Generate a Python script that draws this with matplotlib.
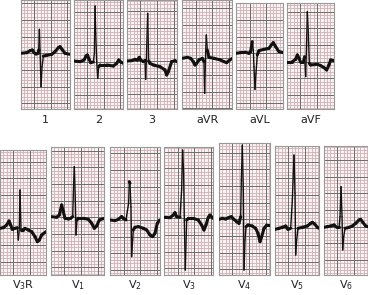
import numpy as np
import matplotlib
matplotlib.use("Agg")
import matplotlib.pyplot as plt
from matplotlib.collections import LineCollection

# lead labels (limb leads on top, chest leads below)
top_labels = ["1", "2", "3", "aVR", "aVL", "aVF"]
bottom_labels = [r"V$_3$R", r"V$_1$", r"V$_2$", r"V$_3$", r"V$_4$", r"V$_5$", r"V$_6$"]

# traces: time in mm (small boxes) from strip start, amplitude in mm above baseline
lead_1_t = [0, 1.8, 2.8, 3.5, 4.0, 4.6, 5.2, 5.4, 5.6, 5.8, 6.1, 6.4, 6.8, 7.8, 9.3, 10.3, 11.3, 11.8, 12.4, 13.3, 14.8]
lead_1_v = [0, 0.2, 0.8, 1.0, 0.2, -0.2, 0, 1, 7.2, 1, -10, -4, -0.8, -0.6, -0.3, 0.5, 1.7, 2.0, 1.2, 0, -0.3]

lead_2_t = [0, 1.9, 3.1, 3.7, 4.1, 4.5, 5.1, 5.9, 6.2, 6.4, 6.6, 6.9, 7.2, 7.5, 7.9, 9.9, 11.9, 12.9, 13.5, 14.1, 14.9]
lead_2_v = [0.2, 0, 0.5, 1.7, 2.0, 1.0, -0.3, -0.1, 2.5, 16.7, 8.5, 0, -5.0, -1.5, -1.0, -1.0, -1.3, -0.5, 0.5, -0.1, -0.5]

lead_3_t = [0, 1.4, 2.4, 3.1, 3.7, 4.1, 4.9, 5.4, 5.6, 5.8, 6.2, 6.5, 6.9, 7.9, 9.9, 11.4, 11.9, 12.4, 13.4, 14.4, 14.9]
lead_3_v = [0, 0.1, 0.5, 0.3, 1.1, 0.3, -0.2, 0.2, -5.5, 0, 14.3, 0, -0.7, -1.2, -1.7, -2.7, -4.2, -3.2, -0.2, 0.1, -0.2]

lead_avr_t = [0, 1.5, 2.5, 3.3, 3.8, 4.3, 5.0, 6.0, 6.5, 6.7, 7.0, 7.2, 7.5, 8.0, 9.5, 11.5, 12.5, 13.3, 14.0, 15.0]
lead_avr_v = [0, 0.3, 0, -1, -2, -1.5, -0.5, 0, -1, -10.5, 1.5, 7, 2.5, 0.3, 0, -0.5, -1, -1.3, -0.7, 0]

lead_avl_t = [0, 1.3, 2.8, 3.8, 4.3, 4.8, 5.1, 5.3, 5.6, 5.9, 6.3, 6.8, 8.3, 9.8, 10.5, 11.1, 11.8, 12.8, 14.0]
lead_avl_v = [0, 0.2, 0.3, 0, 0.5, 3.5, 1.0, -4, -10.8, -6, -0.5, 0.8, 1.2, 1.5, 2.5, 3.2, 2.0, 0.5, 0.2]

lead_avf_t = [0, 1.6, 2.6, 3.1, 3.6, 4.1, 4.9, 5.3, 5.6, 5.9, 6.1, 6.4, 6.7, 7.1, 9.1, 10.1, 11.1, 11.9, 12.6, 13.1, 14.0]
lead_avf_v = [0, 0, 0.7, 2.0, 1.0, -0.2, -0.2, 1.5, -4.5, 6.5, 15, 8.5, -0.5, -1, -0.8, -1.2, -1.8, -2.5, -1, 0.5, 0.3]

lead_v3r_t = [0, 1, 2, 2.7, 3.2, 3.7, 4.5, 5.2, 5.5, 5.8, 6.0, 6.3, 6.8, 7.5, 8.5, 9.5, 10.5, 11.2, 11.8, 12.5, 13.8]
lead_v3r_v = [0, 0.2, 1.0, 2.2, 1.0, -0.3, 0, 0.2, -3.5, 0, 11.5, -0.5, -0.5, 0, -0.5, -1, -2.5, -4.0, -3.5, -2, -1]

lead_v1_t = [0, 1.7, 2.5, 3.2, 3.7, 4.2, 5.2, 5.9, 6.5, 6.8, 7.0, 7.3, 7.5, 7.8, 8.1, 9.7, 11.2, 12.2, 13.0, 13.7, 14.5, 16.0]
lead_v1_v = [0.2, 0, 0.7, 3.7, 1.7, -0.3, -0.5, -0.3, 0.2, 10.2, 15.2, 5.2, -5.3, -0.8, -0.3, -0.3, -0.6, -1.8, -3.3, -2.6, -0.8, -0.3]

lead_v2_t = [0, 1.4, 2.4, 3.4, 3.9, 4.7, 5.1, 5.5, 5.7, 5.9, 6.2, 6.4, 6.7, 6.9, 7.4, 8.4, 9.9, 10.9, 11.9, 12.7, 13.4, 14.1, 14.8]
lead_v2_v = [0, -0.2, 0.2, 1.0, 0.5, 0, 2.5, 5, 11.5, 11, 4, -11, -6, -3, -2.2, -2, -2.5, -3, -4.5, -5, -4, -1, 0]

lead_v3_t = [0, 1.7, 2.7, 3.2, 3.7, 4.7, 5.2, 5.5, 5.8, 6.0, 6.3, 6.7, 7.2, 8.7, 10.2, 11.2, 11.9, 12.5, 13.2, 13.7, 14.6]
lead_v3_v = [0.3, 0.2, 1.0, 1.7, 0.5, 0.3, 8.5, 20.5, 13.5, -0.5, -15.5, -0.5, 0, 0, -0.5, -2, -3.5, -2, 0.3, 1.0, 0]

lead_v4_t = [0, 1, 2, 3, 3.7, 4.5, 5.3, 6.0, 6.5, 6.7, 7.0, 7.3, 7.5, 7.8, 8.1, 8.7, 10, 11, 11.7, 12.3, 12.8, 13.5, 14.3, 15.2]
lead_v4_v = [0, 0.3, 0.1, 0.6, 0.8, 0, -0.7, -1.2, 0.8, 11.8, 22.3, 8.8, -15.2, -6.2, -2.2, -1.7, -2, -2.7, -4.2, -6.7, -5.2, -2.7, -1.7, -1.7]

lead_v5_t = [0, 1.2, 2.2, 3.2, 3.9, 4.7, 5.2, 5.7, 6.0, 6.2, 6.5, 6.9, 8.2, 9.7, 10.7, 11.2, 11.9, 12.7, 13.2]
lead_v5_v = [-0.3, 0, 0.3, 0.7, -0.3, 0, 8.5, 22, 10.5, -8, -3.5, 0, 0.3, 0.7, 1.5, 1.8, 1.3, 0.3, 0]

lead_v6_t = [0, 1.1, 2.1, 3.1, 3.9, 4.6, 4.9, 5.2, 5.5, 5.7, 6.0, 6.4, 7.6, 8.6, 9.6, 10.6, 11.1, 11.8, 12.6, 13.3]
lead_v6_v = [-0.2, 0, 0.2, 0.5, -0.2, -0.2, 3, 12, 3, -7, -3, -0.5, -0.2, 0.2, 1.0, 2.0, 2.2, 1.2, 0.2, 0]

traces = [
    (lead_1_t, lead_1_v), (lead_2_t, lead_2_v), (lead_3_t, lead_3_v),
    (lead_avr_t, lead_avr_v), (lead_avl_t, lead_avl_v), (lead_avf_t, lead_avf_v),
    (lead_v3r_t, lead_v3r_v), (lead_v1_t, lead_v1_v), (lead_v2_t, lead_v2_v),
    (lead_v3_t, lead_v3_v), (lead_v4_t, lead_v4_v), (lead_v5_t, lead_v5_v),
    (lead_v6_t, lead_v6_v),
]

# strip layout: left px, top px, width mm, height mm, baseline mm from top
PX_PER_MM = 10 / 3
layout = [
    (20.7, 0.0, 14.9, 32.8, 16.0),
    (73.7, 0.0, 14.9, 32.8, 18.5),
    (127.0, 0.0, 14.9, 32.8, 18.3),
    (182.3, 0.0, 15.0, 32.8, 17.5),
    (236.3, 3.3, 14.0, 31.8, 15.0),
    (287.0, 3.3, 14.0, 31.8, 17.5),
    (0.0, 150.0, 13.8, 37.4, 23.5),
    (51.0, 147.3, 16.0, 38.2, 21.0),
    (110.3, 147.3, 14.8, 38.2, 21.8),
    (164.3, 146.7, 14.6, 38.4, 21.5),
    (219.0, 142.7, 15.2, 39.6, 23.0),
    (275.0, 146.0, 13.2, 38.6, 24.7),
    (323.7, 146.0, 13.3, 38.6, 24.2),
]

W, H = 368, 295
fig = plt.figure(figsize=(W / 100, H / 100), dpi=100)
fig.patch.set_facecolor("white")
plt.rcParams["mathtext.default"] = "regular"

MINOR_C, MAJOR_C = "#cfb1b6", "#6f6a6b"


def draw_strip(ax, w_mm, h_mm, base, t, v):
    lo, hi = -(h_mm - base), base
    ax.set_xlim(0, w_mm)
    ax.set_ylim(lo, hi)
    ax.set_facecolor("#f8f3f3")
    # paper grid: 1 mm minor, 5 mm major
    for x in np.arange(0, w_mm + 0.01, 1.0):
        major = abs((x - 4) % 5) < 0.01
        ax.axvline(x, color=MAJOR_C if major else MINOR_C, lw=0.7 if major else 0.6, zorder=1 if major else 0)
    for y in np.arange(np.floor(lo), hi + 0.01, 1.0):
        major = abs(y % 5) < 0.01
        ax.axhline(y, color=MAJOR_C if major else MINOR_C, lw=0.7 if major else 0.6, zorder=1 if major else 0)
    # pen trace: thick on slow parts, thin on steep QRS strokes
    pts = np.column_stack([t, v])
    segs = np.stack([pts[:-1], pts[1:]], axis=1)
    slope = np.abs(np.diff(v) / np.maximum(np.diff(t), 1e-6))
    widths = np.where(slope > 6, 1.0, 2.2)
    lc = LineCollection(segs, colors="#111111", linewidths=widths, capstyle="round", joinstyle="round", zorder=3)
    ax.add_collection(lc)
    ax.set_xticks([])
    ax.set_yticks([])
    for s in ax.spines.values():
        s.set_color("#999999")
        s.set_linewidth(0.8)


for (left, top, w_mm, h_mm, base), (t, v) in zip(layout, traces):
    w_px, h_px = w_mm * PX_PER_MM, h_mm * PX_PER_MM
    ax = fig.add_axes([left / W, 1 - (top + h_px) / H, w_px / W, h_px / H])
    draw_strip(ax, w_mm, h_mm, base, t, v)

labels = top_labels + bottom_labels
for i, ((left, top, w_mm, h_mm, base), lab) in enumerate(zip(layout, labels)):
    cx = left + w_mm * PX_PER_MM / 2
    cy = 120 if i < 6 else 285
    fig.text(cx / W, 1 - cy / H, lab, ha="center", va="center", fontsize=8, color="#222222")

fig.savefig("out.png", dpi=100)
